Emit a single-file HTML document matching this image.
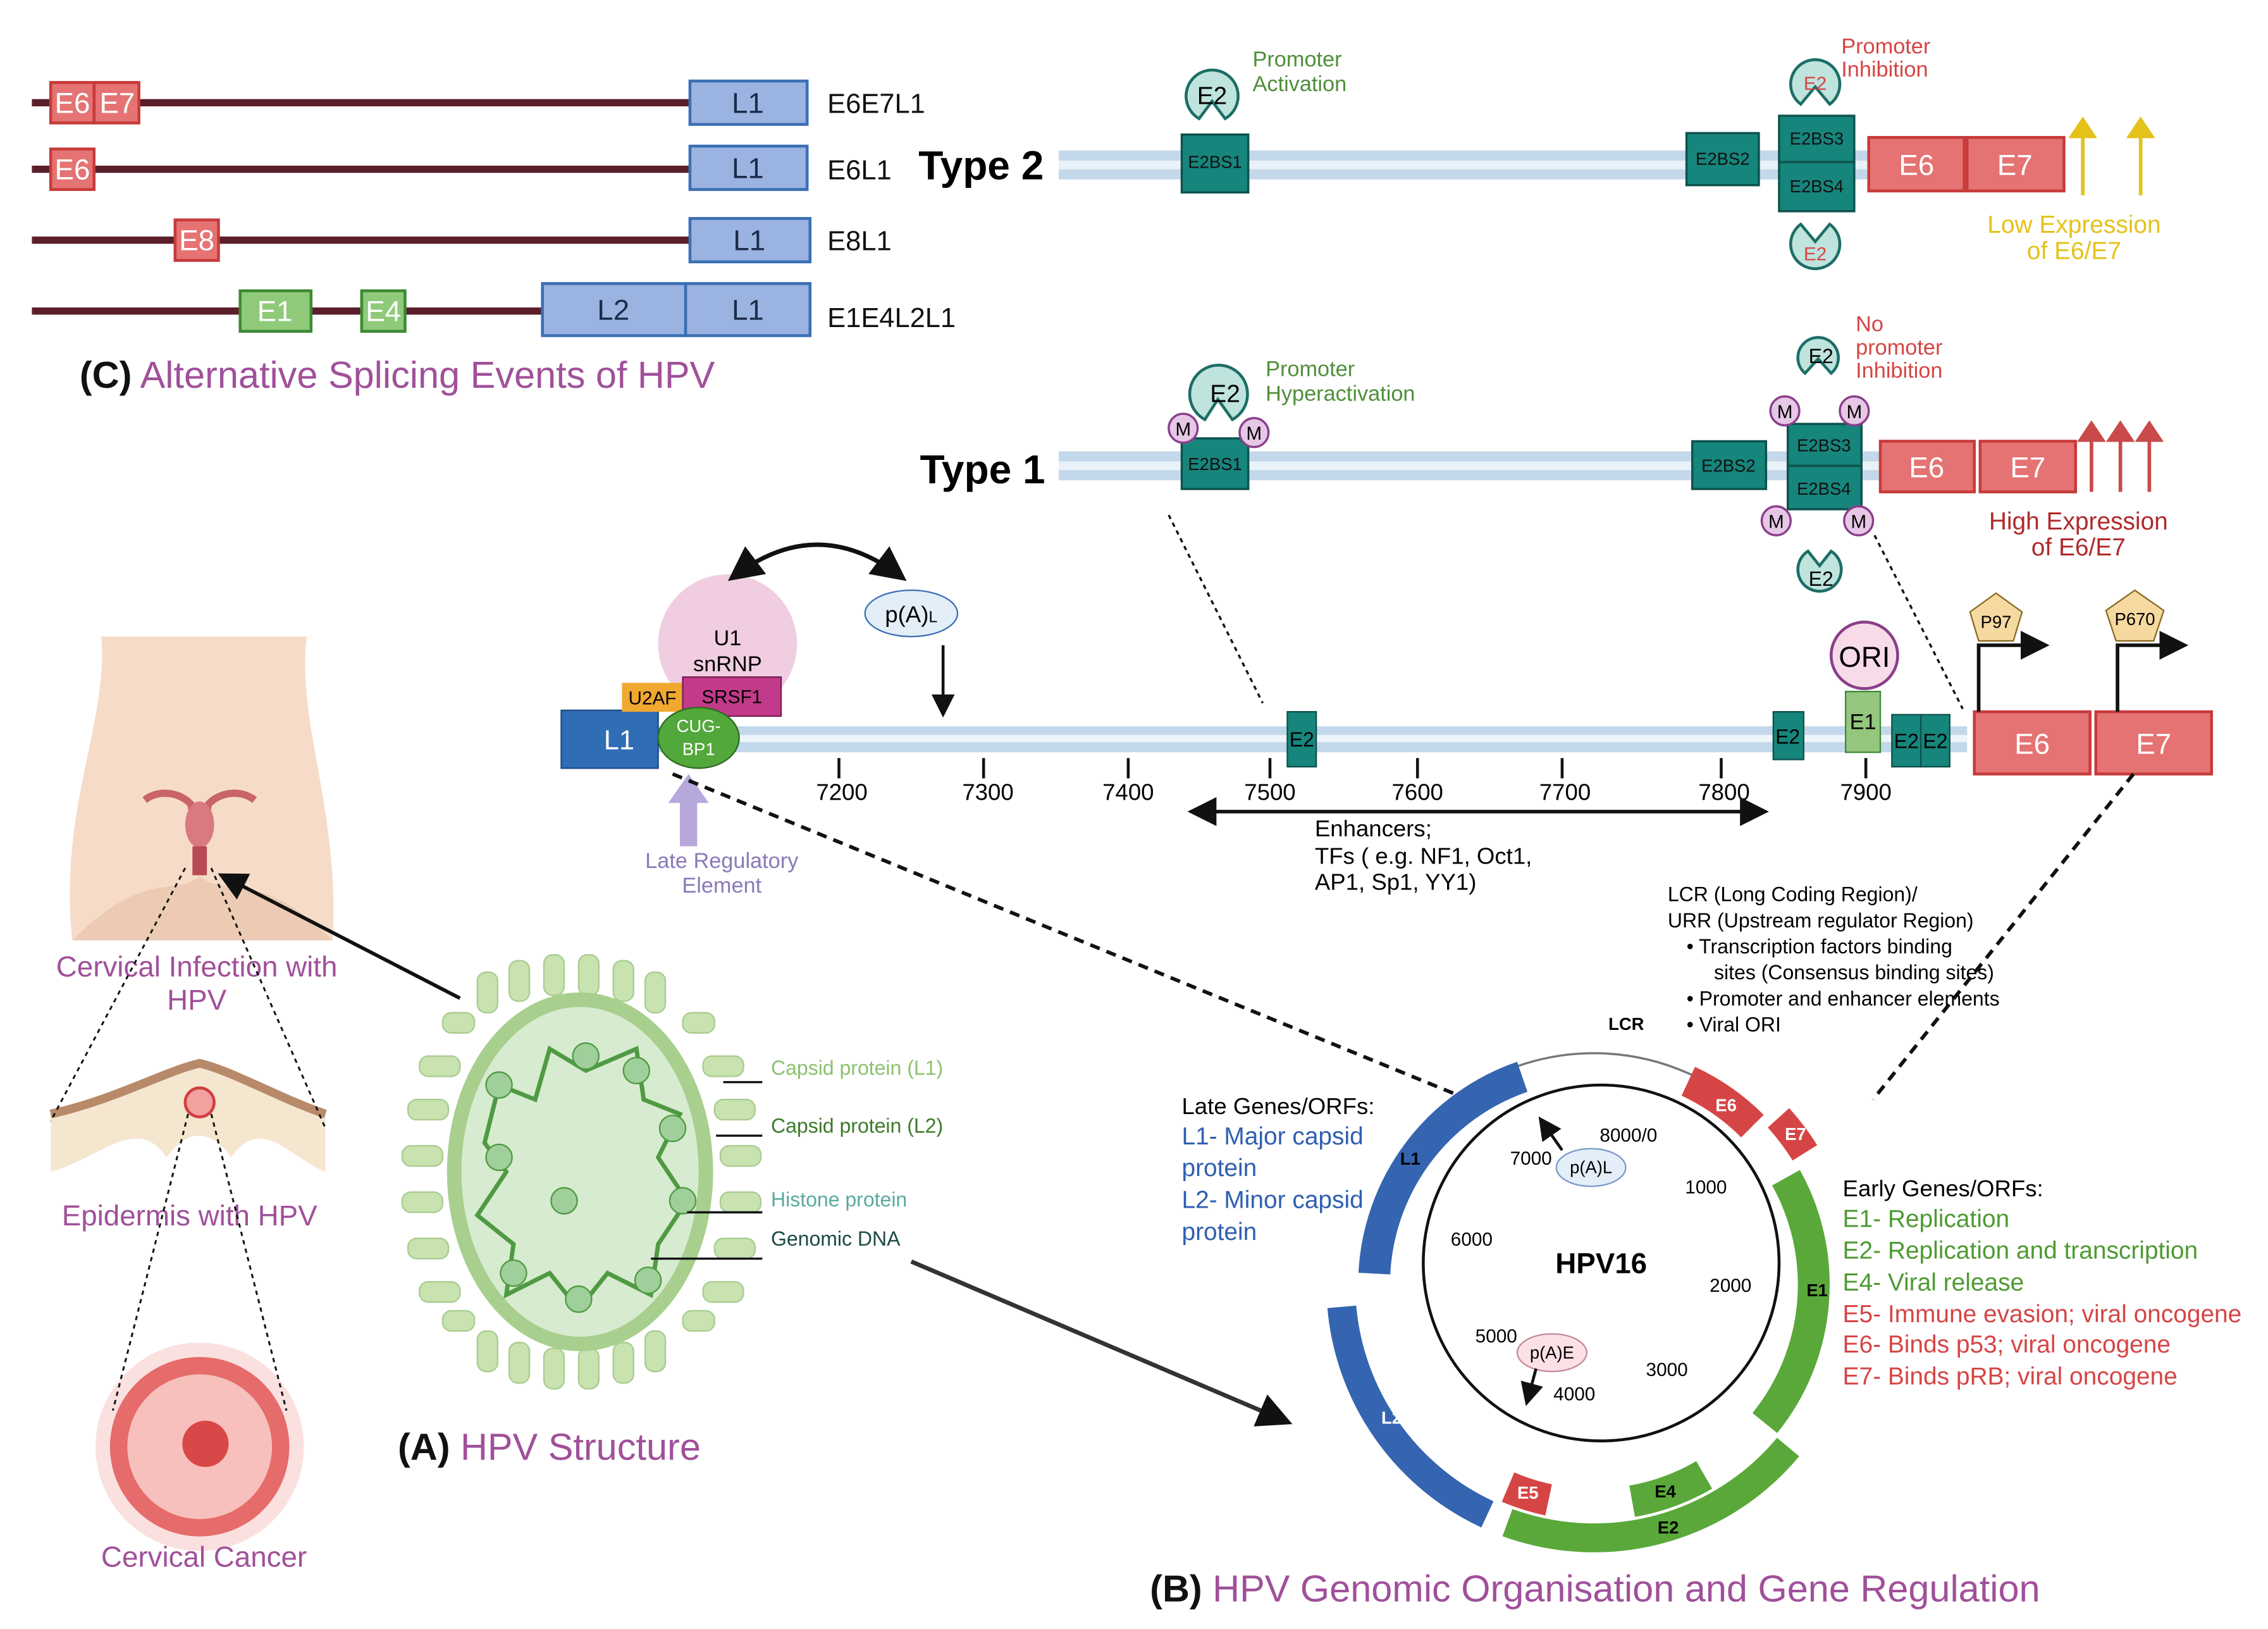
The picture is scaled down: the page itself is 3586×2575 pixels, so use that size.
<!DOCTYPE html>
<html><head><meta charset="utf-8"><style>
html,body{margin:0;padding:0;background:#fff}
svg{display:block}
text{font-family:"Liberation Sans",sans-serif}
</style></head><body>
<svg width="3586" height="2575" viewBox="0 0 1568 1126" xmlns="http://www.w3.org/2000/svg">
<defs>
<marker id="ah" markerWidth="8" markerHeight="8" refX="6" refY="4" orient="auto"><path d="M0,0 L8,4 L0,8 Z" fill="#111"/></marker>
<marker id="ahs" markerWidth="8" markerHeight="8" refX="2" refY="4" orient="auto"><path d="M8,0 L0,4 L8,8 Z" fill="#111"/></marker>
<marker id="ay" markerWidth="6" markerHeight="8" refX="3" refY="4" orient="auto"><path d="M0,0 L6,4 L0,8 Z" fill="#e5c21a"/></marker>
<marker id="ar" markerWidth="6" markerHeight="8" refX="3" refY="4" orient="auto"><path d="M0,0 L6,4 L0,8 Z" fill="#c94a4a"/></marker>
</defs>

<!-- ===== C: splicing ===== -->
<g stroke="#5a1f2a" stroke-width="5">
<line x1="22" y1="71" x2="478" y2="71"/><line x1="22" y1="117" x2="478" y2="117"/>
<line x1="22" y1="166" x2="478" y2="166"/><line x1="22" y1="215" x2="376" y2="215"/>
</g>
<g stroke="#c73b3b" stroke-width="2" fill="#e57373">
<rect x="35" y="57" width="30" height="28"/><rect x="65" y="57" width="31" height="28"/>
<rect x="35" y="103" width="30" height="28"/><rect x="121" y="152" width="30" height="28"/>
</g>
<g stroke="#3d8a35" stroke-width="2" fill="#8fca7a"><rect x="166" y="201" width="49" height="28"/><rect x="250" y="201" width="30" height="28"/></g>
<g stroke="#3a6fb5" stroke-width="2" fill="#9bb3e0">
<rect x="477" y="56" width="81" height="30"/><rect x="477" y="101" width="81" height="30"/>
<rect x="477" y="151" width="83" height="30"/><rect x="375" y="196" width="99" height="36"/><rect x="474" y="196" width="86" height="36"/>
</g>
<g font-size="20" fill="#fff" text-anchor="middle">
<text x="50" y="78">E6</text><text x="81" y="78">E7</text><text x="50" y="124">E6</text><text x="136" y="173">E8</text>
<text x="190" y="222">E1</text><text x="265" y="222">E4</text>
</g>
<g font-size="20" fill="#1b2b4a" text-anchor="middle">
<text x="517" y="78">L1</text><text x="517" y="123">L1</text><text x="518" y="173">L1</text><text x="424" y="221">L2</text><text x="517" y="221">L1</text>
</g>
<g font-size="19" fill="#111"><text x="572" y="78">E6E7L1</text><text x="572" y="124">E6L1</text><text x="572" y="173">E8L1</text><text x="572" y="226">E1E4L2L1</text></g>
<text x="55" y="268" font-size="26"><tspan font-weight="bold" fill="#111">(C)</tspan><tspan fill="#a0509a"> Alternative Splicing Events of HPV</tspan></text>

<!-- ===== Type 2 ===== -->
<text x="635" y="124" font-size="28" font-weight="bold">Type 2</text>
<rect x="732" y="104" width="560" height="20" fill="#c3d8ea"/><rect x="732" y="111" width="560" height="6" fill="#e9f2f8"/>
<g fill="#16857c" stroke="#0d524c" stroke-width="1.5">
<rect x="817" y="93" width="46" height="40"/><rect x="1166" y="92" width="50" height="36"/>
<rect x="1230" y="80" width="52" height="32"/><rect x="1230" y="112" width="52" height="34"/>
</g>
<g font-size="12" fill="#111" text-anchor="middle"><text x="840" y="116">E2BS1</text><text x="1191" y="114">E2BS2</text><text x="1256" y="100">E2BS3</text><text x="1256" y="133">E2BS4</text></g>
<g fill="#bfe3dd" stroke="#1c6e66" stroke-width="2">
<path d="M829,82 A18 18 0 1 1 847,82 L838,70 Z"/>
<path d="M1245,72 A17 17 0 1 1 1265,72 L1255,60 Z"/>
<path d="M1265,155 A17 17 0 1 1 1245,155 L1255,167 Z"/>
</g>
<text x="838" y="72" font-size="17" text-anchor="middle">E2</text>
<text x="1255" y="62" font-size="13" text-anchor="middle" fill="#d64545">E2</text>
<text x="1255" y="180" font-size="13" text-anchor="middle" fill="#d64545">E2</text>
<text font-size="15" fill="#4f8f3a"><tspan x="866" y="46">Promoter</tspan><tspan x="866" y="63">Activation</tspan></text>
<text font-size="15" fill="#d64545"><tspan x="1273" y="37">Promoter</tspan><tspan x="1273" y="53">Inhibition</tspan></text>
<g stroke="#c73b3b" stroke-width="2" fill="#e57373"><rect x="1292" y="95" width="66" height="37"/><rect x="1360" y="95" width="67" height="37"/></g>
<g font-size="20" fill="#fff" text-anchor="middle"><text x="1325" y="121">E6</text><text x="1393" y="121">E7</text></g>
<g stroke="#e5c21a" stroke-width="2.5"><line x1="1440" y1="135" x2="1440" y2="88" marker-end="url(#ay)"/><line x1="1480" y1="135" x2="1480" y2="88" marker-end="url(#ay)"/></g>
<text font-size="17" fill="#e5c21a" text-anchor="middle"><tspan x="1434" y="161">Low Expression</tspan><tspan x="1434" y="179">of E6/E7</tspan></text>

<!-- ===== Type 1 ===== -->
<text x="636" y="334" font-size="28" font-weight="bold">Type 1</text>
<rect x="732" y="312" width="568" height="20" fill="#c3d8ea"/><rect x="732" y="319" width="568" height="6" fill="#e9f2f8"/>
<g fill="#16857c" stroke="#0d524c" stroke-width="1.5">
<rect x="817" y="303" width="46" height="35"/><rect x="1170" y="305" width="51" height="33"/>
<rect x="1236" y="293" width="51" height="29"/><rect x="1236" y="322" width="51" height="30"/>
</g>
<g font-size="12" fill="#111" text-anchor="middle"><text x="840" y="325">E2BS1</text><text x="1195" y="326">E2BS2</text><text x="1261" y="312">E2BS3</text><text x="1261" y="342">E2BS4</text></g>
<g fill="#bfe3dd" stroke="#1c6e66" stroke-width="2">
<path d="M833,290 A20 20 0 1 1 852,290 L842,276 Z"/>
<path d="M1248,258 A14 14 0 1 1 1266,258 L1257,248 Z"/>
<path d="M1266,381 A15 15 0 1 1 1250,381 L1258,391 Z"/>
</g>
<text x="847" y="278" font-size="17" text-anchor="middle">E2</text>
<text x="1259" y="251" font-size="14" text-anchor="middle">E2</text>
<text x="1259" y="405" font-size="14" text-anchor="middle">E2</text>
<g fill="#e6c8e6" stroke="#8a3f8a" stroke-width="1.5">
<circle cx="818" cy="296" r="10"/><circle cx="867" cy="299" r="10"/>
<circle cx="1234" cy="284" r="10"/><circle cx="1282" cy="284" r="10"/><circle cx="1228" cy="360" r="10"/><circle cx="1285" cy="360" r="10"/>
</g>
<g font-size="13" text-anchor="middle"><text x="818" y="301">M</text><text x="867" y="304">M</text><text x="1234" y="289">M</text><text x="1282" y="289">M</text><text x="1228" y="365">M</text><text x="1285" y="365">M</text></g>
<text font-size="15" fill="#4f8f3a"><tspan x="875" y="260">Promoter</tspan><tspan x="875" y="277">Hyperactivation</tspan></text>
<text font-size="15" fill="#d64545"><tspan x="1283" y="229">No</tspan><tspan x="1283" y="245">promoter</tspan><tspan x="1283" y="261">Inhibition</tspan></text>
<g stroke="#c73b3b" stroke-width="2" fill="#e57373"><rect x="1300" y="305" width="65" height="35"/><rect x="1369" y="305" width="66" height="35"/></g>
<g font-size="20" fill="#fff" text-anchor="middle"><text x="1332" y="330">E6</text><text x="1402" y="330">E7</text></g>
<g stroke="#c94a4a" stroke-width="2.5"><line x1="1446" y1="340" x2="1446" y2="298" marker-end="url(#ar)"/><line x1="1466" y1="340" x2="1466" y2="298" marker-end="url(#ar)"/><line x1="1486" y1="340" x2="1486" y2="298" marker-end="url(#ar)"/></g>
<text font-size="17" fill="#b02a2a" text-anchor="middle"><tspan x="1437" y="366">High Expression</tspan><tspan x="1437" y="384">of E6/E7</tspan></text>

<g stroke="#111" stroke-width="1.5" stroke-dasharray="3,3"><line x1="808" y1="356" x2="873" y2="486"/><line x1="1296" y1="370" x2="1357" y2="490"/></g>

<!-- ===== genome strip ===== -->
<rect x="390" y="502" width="970" height="18" fill="#c3d8ea"/><rect x="390" y="508" width="970" height="5" fill="#eef5fa"/>
<circle cx="503" cy="445" r="48" fill="#f0cde0"/>
<text font-size="15" text-anchor="middle"><tspan x="503" y="446">U1</tspan><tspan x="503" y="464">snRNP</tspan></text>
<rect x="388" y="491" width="67" height="40" fill="#2f6db5" stroke="#1c4a85"/>
<text x="428" y="518" font-size="19" fill="#fff" text-anchor="middle">L1</text>
<rect x="430" y="472" width="42" height="20" fill="#f0a830"/><text x="451" y="487" font-size="13" text-anchor="middle">U2AF</text>
<rect x="472" y="468" width="68" height="27" fill="#c23a8a" stroke="#7a1f55"/><text x="506" y="486" font-size="13" text-anchor="middle">SRSF1</text>
<ellipse cx="483" cy="510" rx="28" ry="21" fill="#52a83a" stroke="#2c6a20"/>
<text font-size="12" fill="#fff" text-anchor="middle"><tspan x="483" y="506">CUG-</tspan><tspan x="483" y="522">BP1</tspan></text>
<path d="M508,398 Q565,355 622,398" fill="none" stroke="#111" stroke-width="3" marker-start="url(#ahs)" marker-end="url(#ah)"/>
<ellipse cx="630" cy="424" rx="32" ry="16" fill="#e3eef8" stroke="#3a6fb5"/>
<text x="630" y="430" font-size="16" text-anchor="middle">p(A)<tspan font-size="11">L</tspan></text>
<line x1="652" y1="446" x2="652" y2="492" stroke="#111" stroke-width="2" marker-end="url(#ah)"/>
<g fill="#16857c" stroke="#0d524c"><rect x="890" y="492" width="20" height="38"/><rect x="1226" y="492" width="21" height="33"/><rect x="1308" y="494" width="20" height="36"/><rect x="1328" y="494" width="20" height="36"/></g>
<rect x="1276" y="478" width="24" height="42" fill="#94c67e" stroke="#3d8a35"/>
<g font-size="14" text-anchor="middle"><text x="900" y="516">E2</text><text x="1236" y="514">E2</text><text x="1318" y="517">E2</text><text x="1338" y="517">E2</text><text x="1288" y="504" font-size="15">E1</text></g>
<circle cx="1289" cy="453" r="23" fill="#f8dbe8" stroke="#8a3f8a" stroke-width="2"/><text x="1289" y="461" font-size="20" text-anchor="middle">ORI</text>
<g stroke="#c73b3b" stroke-width="2" fill="#e57373"><rect x="1365" y="492" width="80" height="43"/><rect x="1449" y="492" width="80" height="43"/></g>
<g font-size="20" fill="#fff" text-anchor="middle"><text x="1405" y="521">E6</text><text x="1489" y="521">E7</text></g>
<g fill="none" stroke="#111" stroke-width="2.5"><path d="M1368,492 V446 H1412" marker-end="url(#ah)"/><path d="M1464,492 V446 H1508" marker-end="url(#ah)"/></g>
<polygon points="1380,410 1398,423 1392,443 1368,443 1362,423" fill="#f5d9a0" stroke="#8a6a20"/>
<polygon points="1476,408 1496,422 1489,443 1463,443 1456,422" fill="#f5d9a0" stroke="#8a6a20"/>
<text x="1380" y="434" font-size="12" text-anchor="middle">P97</text><text x="1476" y="432" font-size="12" text-anchor="middle">P670</text>
<g stroke="#111" stroke-width="2">
<line x1="580" y1="524" x2="580" y2="538"/><line x1="680" y1="524" x2="680" y2="538"/><line x1="780" y1="524" x2="780" y2="538"/><line x1="878" y1="524" x2="878" y2="538"/><line x1="980" y1="524" x2="980" y2="538"/><line x1="1080" y1="524" x2="1080" y2="538"/><line x1="1190" y1="524" x2="1190" y2="538"/><line x1="1290" y1="524" x2="1290" y2="538"/>
</g>
<g font-size="16" text-anchor="middle"><text x="582" y="553">7200</text><text x="683" y="553">7300</text><text x="780" y="553">7400</text><text x="878" y="553">7500</text><text x="980" y="553">7600</text><text x="1082" y="553">7700</text><text x="1192" y="553">7800</text><text x="1290" y="553">7900</text></g>
<line x1="826" y1="561" x2="1218" y2="561" stroke="#111" stroke-width="2.5" marker-start="url(#ahs)" marker-end="url(#ah)"/>
<text font-size="16"><tspan x="909" y="578">Enhancers;</tspan><tspan x="909" y="597">TFs ( e.g. NF1, Oct1,</tspan><tspan x="909" y="615">AP1, Sp1, YY1)</tspan></text>
<path d="M470,585 V555 H462 L476,535 L490,555 H482 V585 Z" fill="#b7a8dc"/>
<text font-size="15" fill="#8a7ab8" text-anchor="middle"><tspan x="499" y="600">Late Regulatory</tspan><tspan x="499" y="617">Element</tspan></text>
<g stroke="#111" stroke-width="2.5" stroke-dasharray="7,5"><line x1="465" y1="535" x2="1008" y2="757"/><line x1="1475" y1="535" x2="1295" y2="760"/></g>

<text font-size="14"><tspan x="1153" y="623">LCR (Long Coding Region)/</tspan><tspan x="1153" y="641">URR (Upstream regulator Region)</tspan>
<tspan x="1166" y="659">•  Transcription factors binding</tspan><tspan x="1185" y="677">sites (Consensus binding sites)</tspan>
<tspan x="1166" y="695">•  Promoter and enhancer elements</tspan><tspan x="1166" y="713">•  Viral ORI</tspan></text>

<!-- ===== circular genome ===== -->
<g fill="none" transform="translate(1102,888)">
<circle r="160" pathLength="360" stroke="#777" stroke-width="1.5" stroke-dasharray="44 316" transform="rotate(251)"/>
<circle r="152" pathLength="360" stroke="#3565b0" stroke-width="22" stroke-dasharray="68 292" transform="rotate(183)"/>
<circle r="155" pathLength="360" stroke="#d64545" stroke-width="22" stroke-dasharray="20 340" transform="rotate(-65)"/>
<circle r="172" pathLength="360" stroke="#d64545" stroke-width="20" stroke-dasharray="10 350" transform="rotate(-42)"/>
<circle r="152" pathLength="360" stroke="#5aa83a" stroke-width="22" stroke-dasharray="68 292" transform="rotate(-29)"/>
<circle r="152" pathLength="360" stroke="#5aa83a" stroke-width="22" stroke-dasharray="20 340" transform="rotate(60)"/>
<circle r="152" pathLength="360" stroke="#d64545" stroke-width="22" stroke-dasharray="11 349" transform="rotate(102)"/>
<circle r="175" pathLength="360" stroke="#3565b0" stroke-width="20" stroke-dasharray="60 300" transform="rotate(115)"/>
<circle r="175" pathLength="360" stroke="#5aa83a" stroke-width="20" stroke-dasharray="70 290" transform="rotate(40)"/>
</g>
<circle cx="1107" cy="873" r="123" fill="none" stroke="#111" stroke-width="2"/>
<g font-size="12" font-weight="bold"><text x="1112" y="712">LCR</text><text x="1186" y="768" fill="#fff">E6</text><text x="1234" y="788" fill="#fff">E7</text>
<text x="968" y="805">L1</text><text x="955" y="984" fill="#fff">L2</text><text x="1049" y="1036" fill="#fff">E5</text><text x="1144" y="1035">E4</text><text x="1146" y="1060">E2</text><text x="1249" y="896">E1</text></g>
<g font-size="13"><text x="1106" y="789">8000/0</text><text x="1165" y="825">1000</text><text x="1182" y="893">2000</text><text x="1138" y="951">3000</text><text x="1074" y="968">4000</text><text x="1020" y="928">5000</text><text x="1003" y="861">6000</text><text x="1044" y="805">7000</text></g>
<text x="1107" y="880" font-size="20" font-weight="bold" text-anchor="middle">HPV16</text>
<ellipse cx="1100" cy="807" rx="24" ry="13" fill="#e3eef8" stroke="#7a9ac8"/><text x="1100" y="811" font-size="12" text-anchor="middle">p(A)L</text>
<ellipse cx="1073" cy="935" rx="24" ry="13" fill="#fbe0e6" stroke="#c48a9a"/><text x="1073" y="939" font-size="12" text-anchor="middle">p(A)E</text>
<line x1="1080" y1="795" x2="1066" y2="775" stroke="#111" stroke-width="2" marker-end="url(#ah)"/>
<line x1="1062" y1="946" x2="1056" y2="968" stroke="#111" stroke-width="2" marker-end="url(#ah)"/>
<text font-size="16"><tspan x="817" y="770">Late Genes/ORFs:</tspan></text>
<text font-size="17" fill="#2f5fb0"><tspan x="817" y="791">L1- Major capsid</tspan><tspan x="817" y="813">protein</tspan><tspan x="817" y="835">L2- Minor capsid</tspan><tspan x="817" y="857">protein</tspan></text>
<text x="1274" y="827" font-size="16">Early Genes/ORFs:</text>
<g font-size="17"><text x="1274" y="848" fill="#4f9a32">E1- Replication</text><text x="1274" y="870" fill="#4f9a32">E2- Replication and transcription</text><text x="1274" y="892" fill="#4f9a32">E4- Viral release</text>
<text x="1274" y="914" fill="#d64545">E5- Immune evasion; viral oncogene</text><text x="1274" y="935" fill="#d64545">E6- Binds p53; viral oncogene</text><text x="1274" y="957" fill="#d64545">E7- Binds pRB; viral oncogene</text></g>
<text x="795" y="1107" font-size="26"><tspan font-weight="bold" fill="#111">(B)</tspan><tspan fill="#a0509a"> HPV Genomic Organisation and Gene Regulation</tspan></text>

<!-- ===== A: virus ===== -->
<g fill="#c8e2b0" stroke="#a9cc90">
<rect x="330" y="672" width="14" height="28" rx="6"/><rect x="352" y="664" width="14" height="28" rx="6"/><rect x="376" y="660" width="14" height="28" rx="6"/><rect x="400" y="660" width="14" height="28" rx="6"/><rect x="424" y="664" width="14" height="28" rx="6"/><rect x="446" y="672" width="14" height="28" rx="6"/>
<rect x="330" y="920" width="14" height="28" rx="6"/><rect x="352" y="928" width="14" height="28" rx="6"/><rect x="376" y="932" width="14" height="28" rx="6"/><rect x="400" y="932" width="14" height="28" rx="6"/><rect x="424" y="928" width="14" height="28" rx="6"/><rect x="446" y="920" width="14" height="28" rx="6"/>
<rect x="290" y="730" width="28" height="14" rx="6"/><rect x="282" y="760" width="28" height="14" rx="6"/><rect x="278" y="792" width="28" height="14" rx="6"/><rect x="278" y="824" width="28" height="14" rx="6"/><rect x="282" y="856" width="28" height="14" rx="6"/><rect x="290" y="886" width="28" height="14" rx="6"/>
<rect x="486" y="730" width="28" height="14" rx="6"/><rect x="494" y="760" width="28" height="14" rx="6"/><rect x="498" y="792" width="28" height="14" rx="6"/><rect x="498" y="824" width="28" height="14" rx="6"/><rect x="494" y="856" width="28" height="14" rx="6"/><rect x="486" y="886" width="28" height="14" rx="6"/>
<rect x="306" y="700" width="22" height="14" rx="6"/><rect x="472" y="700" width="22" height="14" rx="6"/><rect x="306" y="906" width="22" height="14" rx="6"/><rect x="472" y="906" width="22" height="14" rx="6"/>
</g>
<ellipse cx="401" cy="810" rx="92" ry="124" fill="#a8cf8e"/>
<ellipse cx="401" cy="810" rx="82" ry="114" fill="#d6ebd0"/>
<path d="M345,750 L370,760 L380,725 L405,740 L440,725 L445,760 L470,770 L455,800 L475,830 L455,860 L450,895 L420,880 L400,905 L380,880 L350,895 L355,860 L330,840 L350,810 L335,790 Z" fill="none" stroke="#4f9a42" stroke-width="3"/>
<g fill="#9fcf9a" stroke="#4f9a42"><circle cx="345" cy="750" r="9"/><circle cx="405" cy="730" r="9"/><circle cx="440" cy="740" r="9"/><circle cx="465" cy="780" r="9"/><circle cx="472" cy="830" r="9"/><circle cx="448" cy="885" r="9"/><circle cx="400" cy="898" r="9"/><circle cx="355" cy="880" r="9"/><circle cx="345" cy="800" r="9"/><circle cx="390" cy="830" r="9"/></g>
<g stroke="#111" stroke-width="1.5"><line x1="500" y1="748" x2="527" y2="748"/><line x1="495" y1="785" x2="527" y2="785"/><line x1="475" y1="838" x2="527" y2="838"/><line x1="450" y1="870" x2="527" y2="870"/></g>
<g font-size="14"><text x="533" y="743" fill="#8bc26e">Capsid protein (L1)</text><text x="533" y="783" fill="#3d7a2a">Capsid protein (L2)</text><text x="533" y="834" fill="#5aaaa0">Histone protein</text><text x="533" y="861" fill="#1d4a44">Genomic DNA</text></g>
<text x="275" y="1009" font-size="26"><tspan font-weight="bold" fill="#111">(A)</tspan><tspan fill="#a0509a"> HPV Structure</tspan></text>

<!-- anatomy -->
<path d="M70,440 C75,500 40,560 50,650 L230,650 C235,560 205,500 212,440 Z" fill="#f6dcc8"/>
<path d="M50,650 C100,600 120,620 138,606 C156,620 180,600 230,650 Z" fill="#eccab3"/>
<path d="M100,553 C110,545 125,548 132,556 L138,590 L144,556 C151,548 166,545 176,553" fill="none" stroke="#c8646a" stroke-width="5"/>
<ellipse cx="138" cy="570" rx="10" ry="16" fill="#d87a80"/>
<rect x="133" y="585" width="10" height="20" fill="#b84a55"/>
<text font-size="20" fill="#a0509a" text-anchor="middle"><tspan x="136" y="675">Cervical Infection with</tspan><tspan x="136" y="698">HPV</tspan></text>
<path d="M35,770 C80,760 115,740 138,735 C160,740 195,760 225,770 L225,810 C200,800 180,770 160,800 C145,780 130,780 115,800 C95,770 70,800 35,810 Z" fill="#f5e6d0"/>
<path d="M35,770 C80,760 115,740 138,735 C160,740 195,760 225,770" fill="none" stroke="#b88a6a" stroke-width="6"/>
<circle cx="138" cy="762" r="10" fill="#f3a0a0" stroke="#d04040" stroke-width="2"/>
<text x="131" y="847" font-size="20" fill="#a0509a" text-anchor="middle">Epidermis with HPV</text>
<circle cx="138" cy="1000" r="72" fill="#fbe0e0"/>
<circle cx="138" cy="1000" r="62" fill="#e66b6b"/>
<circle cx="138" cy="1000" r="50" fill="#f7c0bc"/>
<circle cx="142" cy="998" r="16" fill="#d84848"/>
<text x="141" y="1083" font-size="20" fill="#a0509a" text-anchor="middle">Cervical Cancer</text>
<g stroke="#111" stroke-width="1.3" stroke-dasharray="3,3"><line x1="128" y1="600" x2="35" y2="775"/><line x1="146" y1="600" x2="225" y2="780"/><line x1="130" y1="770" x2="78" y2="975"/><line x1="146" y1="770" x2="198" y2="975"/></g>
<line x1="318" y1="690" x2="155" y2="606" stroke="#111" stroke-width="2.5" marker-end="url(#ah)"/>
<line x1="630" y1="872" x2="888" y2="982" stroke="#333" stroke-width="3" marker-end="url(#ah)"/>
</svg>
</body></html>
